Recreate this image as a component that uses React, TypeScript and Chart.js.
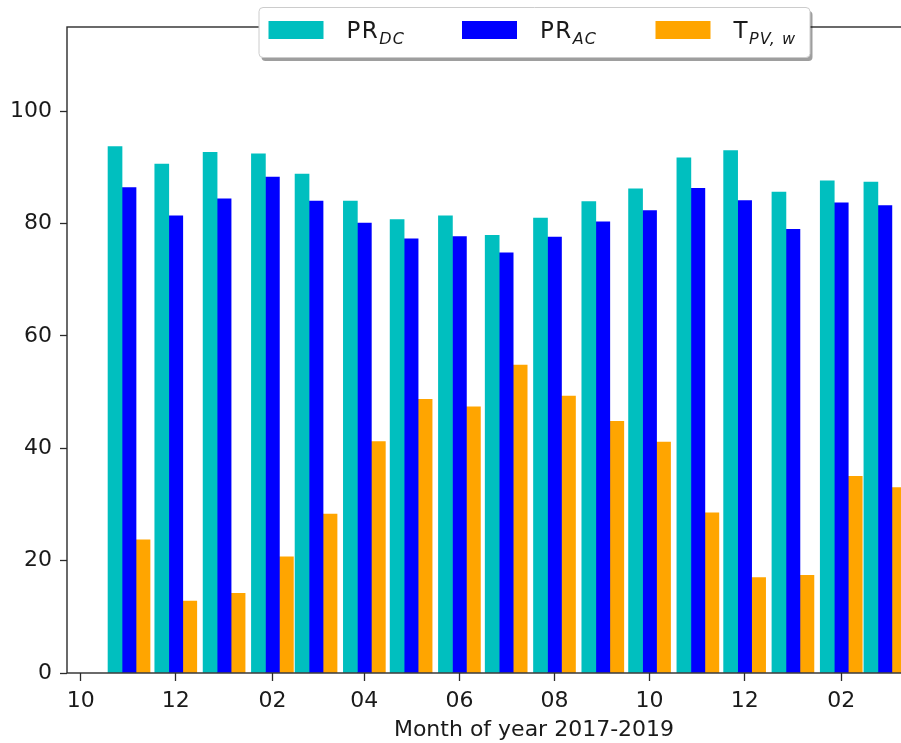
import React, { useEffect, useRef } from 'react';
import { Chart, registerables } from 'chart.js';

Chart.register(...registerables);

// ---- data ----
const MONTHS = [
  '2017-11', '2017-12', '2018-01', '2018-02', '2018-03', '2018-04', '2018-05', '2018-06',
  '2018-07', '2018-08', '2018-09', '2018-10', '2018-11', '2018-12', '2019-01', '2019-02', '2019-03',
];
const PR_DC = [93.7, 90.6, 92.7, 92.4, 88.8, 84.0, 80.7, 81.4, 77.9, 81.0, 83.9, 86.2, 91.7, 93.0, 85.6, 87.6, 87.4];
const PR_AC = [86.4, 81.4, 84.4, 88.3, 84.0, 80.1, 77.3, 77.7, 74.8, 77.6, 80.3, 82.3, 86.3, 84.1, 79.0, 83.7, 83.2];
const T_PV_W = [23.7, 12.8, 14.2, 20.7, 28.3, 41.2, 48.7, 47.4, 54.8, 49.3, 44.8, 41.1, 28.5, 17.0, 17.4, 35.0, 33.0];

const X_TICK_MONTHS = ['2017-10', '2017-12', '2018-02', '2018-04', '2018-06', '2018-08', '2018-10', '2018-12', '2019-02', '2019-04'];
const X_TICK_LABELS = ['10', '12', '02', '04', '06', '08', '10', '12', '02', '04'];
const Y_TICKS = [0, 20, 40, 60, 80, 100];
const X_TITLE = 'Month of year 2017-2019';
const LEGEND_ITEMS = [
  { main: 'PR', sub: 'DC', color: '#00bfbf' },
  { main: 'PR', sub: 'AC', color: '#0000ff' },
  { main: 'T', sub: 'PV, w', color: '#ffa500' },
];

// axis limits in days from 2017-10-01
const X_MIN = -8.8;
const X_MAX = 590.5;
const Y_MAX = 115;

const EPOCH = Date.UTC(2017, 9, 1);
const dayOf = (ym: string) => {
  const [y, m] = ym.split('-').map(Number);
  return (Date.UTC(y, m - 1, 1) - EPOCH) / 86400000;
};

const FONT = 'DejaVu Sans';
const TEXT = '#1a1a1a';
const SPINE = '#2b2b2b';

const framePlugin = {
  id: 'frame',
  afterDatasetsDraw(chart: any) {
    const { ctx, chartArea: a } = chart;
    ctx.save();
    ctx.strokeStyle = SPINE;
    ctx.lineWidth = 1.4;
    ctx.strokeRect(a.left, a.top, a.right - a.left, a.bottom - a.top);
    ctx.restore();
  },
};

const legendPlugin = {
  id: 'mplLegend',
  afterDraw(chart: any) {
    const { ctx, chartArea: a } = chart;
    const boxW = 551;
    const boxH = 50;
    const x0 = (a.left + a.right) / 2 - boxW / 2;
    const y0 = 7;
    ctx.save();
    // shadow
    ctx.fillStyle = 'rgba(0,0,0,0.38)';
    ctx.beginPath();
    ctx.roundRect(x0 + 3, y0 + 4, boxW, boxH, 4);
    ctx.fill();
    // box
    ctx.fillStyle = '#ffffff';
    ctx.strokeStyle = '#cccccc';
    ctx.lineWidth = 1;
    ctx.beginPath();
    ctx.roundRect(x0 + 0.5, y0 + 0.5, boxW, boxH, 4);
    ctx.fill();
    ctx.stroke();
    const colW = 193.5;
    LEGEND_ITEMS.forEach((it, i) => {
      const sx = x0 + 10 + i * colW;
      ctx.fillStyle = it.color;
      ctx.fillRect(sx, y0 + 14, 55, 18);
      const tx = sx + 78;
      const base = y0 + 31;
      ctx.fillStyle = TEXT;
      ctx.textBaseline = 'alphabetic';
      ctx.textAlign = 'left';
      (ctx as any).letterSpacing = '1.5px';
      ctx.font = `23px "${FONT}"`;
      ctx.fillText(it.main, tx, base);
      const w = ctx.measureText(it.main).width;
      (ctx as any).letterSpacing = '1px';
      ctx.font = `italic 16px "${FONT}"`;
      ctx.fillText(it.sub, tx + w, base + 6);
      (ctx as any).letterSpacing = '0px';
    });
    ctx.restore();
  },
};

export default function App() {
  const ref = useRef<HTMLCanvasElement>(null);
  useEffect(() => {
    const xs = MONTHS.map(dayOf);
    const tickDays = X_TICK_MONTHS.map(dayOf);
    const mk = (label: string, vals: number[], color: string) => ({
      label,
      data: vals.map((v, i) => ({ x: xs[i], y: v })),
      backgroundColor: color,
      borderWidth: 0,
      barThickness: 14,
    });
    const chart = new Chart(ref.current as HTMLCanvasElement, {
      type: 'bar',
      data: {
        datasets: [
          mk('PR_DC', PR_DC, '#00bfbf'),
          mk('PR_AC', PR_AC, '#0000ff'),
          mk('T_PV,w', T_PV_W, '#ffa500'),
        ] as any,
      },
      options: {
        animation: false,
        responsive: false,
        maintainAspectRatio: false,
        layout: { padding: { top: 27, right: 39, left: 0, bottom: 0 } },
        plugins: { legend: { display: false }, tooltip: { enabled: false } },
        scales: {
          x: {
            type: 'linear',
            min: X_MIN,
            max: X_MAX,
            offset: false,
            grid: { display: true, offset: false, drawOnChartArea: false, drawTicks: true, tickLength: 8, tickColor: SPINE, tickWidth: 1.3 },
            border: { display: false },
            ticks: {
              font: { family: FONT, size: 22 },
              color: TEXT,
              padding: 7,
              maxRotation: 0,
              autoSkip: false,
              callback: (_v: any, i: number) => X_TICK_LABELS[i],
            },
            afterBuildTicks: (s: any) => {
              s.ticks = tickDays.map((v) => ({ value: v }));
            },
            afterFit: (s: any) => {
              s.height = 70;
            },
            title: {
              display: true,
              text: X_TITLE,
              font: { family: FONT, size: 22 },
              color: TEXT,
              padding: { top: 0, bottom: 0 },
            },
          },
          y: {
            min: 0,
            max: Y_MAX,
            grid: { display: true, drawOnChartArea: false, drawTicks: true, tickLength: 7, tickColor: SPINE, tickWidth: 1.3 },
            border: { display: false },
            ticks: { font: { family: FONT, size: 22 }, color: TEXT, padding: 8 },
            afterBuildTicks: (s: any) => {
              s.ticks = Y_TICKS.map((v) => ({ value: v }));
            },
            afterFit: (s: any) => {
              s.width = 67;
            },
          },
        },
      } as any,
      plugins: [framePlugin, legendPlugin],
    });
    return () => chart.destroy();
  }, []);

  return (
    <div style={{ position: 'fixed', left: 0, top: 0, width: 901, height: 743, overflow: 'hidden', background: '#fff' }}>
      <canvas ref={ref} width={1040} height={743} style={{ display: 'block' }} />
    </div>
  );
}
